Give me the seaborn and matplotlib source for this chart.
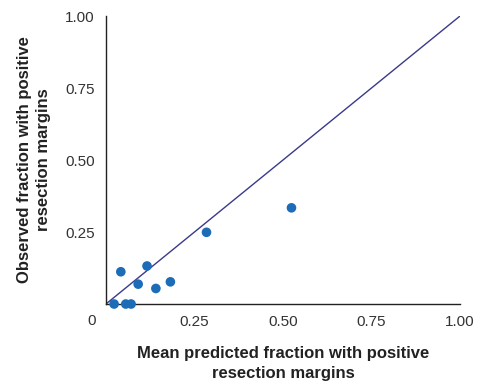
import seaborn as sns
import pandas as pd
import matplotlib.pyplot as plt

# Calibration points
predicted = [0.023, 0.056, 0.071, 0.042, 0.091, 0.116, 0.141, 0.182, 0.284, 0.524]
observed = [0.0, 0.0, 0.0, 0.112, 0.069, 0.132, 0.054, 0.077, 0.249, 0.334]
ticks = [0.25, 0.50, 0.75, 1.00]
tick_labels = ['0.25', '0.50', '0.75', '1.00']

df = pd.DataFrame({'predicted': predicted, 'observed': observed})

sns.set_style('white')
plt.rcParams['font.family'] = ['Liberation Sans', 'DejaVu Sans']

fig = plt.figure(figsize=(4.86, 3.86), dpi=100)
ax = fig.add_axes([0.218, 0.2124, 0.7285, 0.7461])

# perfect calibration line
sns.lineplot(x=[0, 1], y=[0, 1], ax=ax, color='#3a3a8a', linewidth=1.0)
sns.scatterplot(data=df, x='predicted', y='observed', ax=ax, color='#1c6cb8',
                s=48, edgecolor='none', clip_on=False, zorder=3)

ax.set_xlim(0, 1)
ax.set_ylim(0, 1)
ax.set_xticks(ticks)
ax.set_xticklabels(tick_labels)
ax.set_yticks(ticks)
ax.set_yticklabels(tick_labels)
ax.tick_params(direction='in', length=5, width=1, colors='#222222',
               labelsize=11, pad=8)
for lab in ax.get_xticklabels() + ax.get_yticklabels():
    lab.set_color('#333333')

ax.text(-0.04, -0.06, '0', transform=ax.transAxes, ha='center', va='center',
        fontsize=11, color='#333333')

for side in ['top', 'right']:
    ax.spines[side].set_visible(False)
for side in ['left', 'bottom']:
    ax.spines[side].set_color('#222222')
    ax.spines[side].set_linewidth(1.0)

ax.set_xlabel('Mean predicted fraction with positive\nresection margins',
              fontsize=12, fontweight='bold', color='#222222', labelpad=12,
              linespacing=1.4)
ax.set_ylabel('Observed fraction with positive\nresection margins',
              fontsize=12, fontweight='bold', color='#222222', labelpad=10,
              linespacing=1.4)

fig.savefig('out.png', dpi=100)
